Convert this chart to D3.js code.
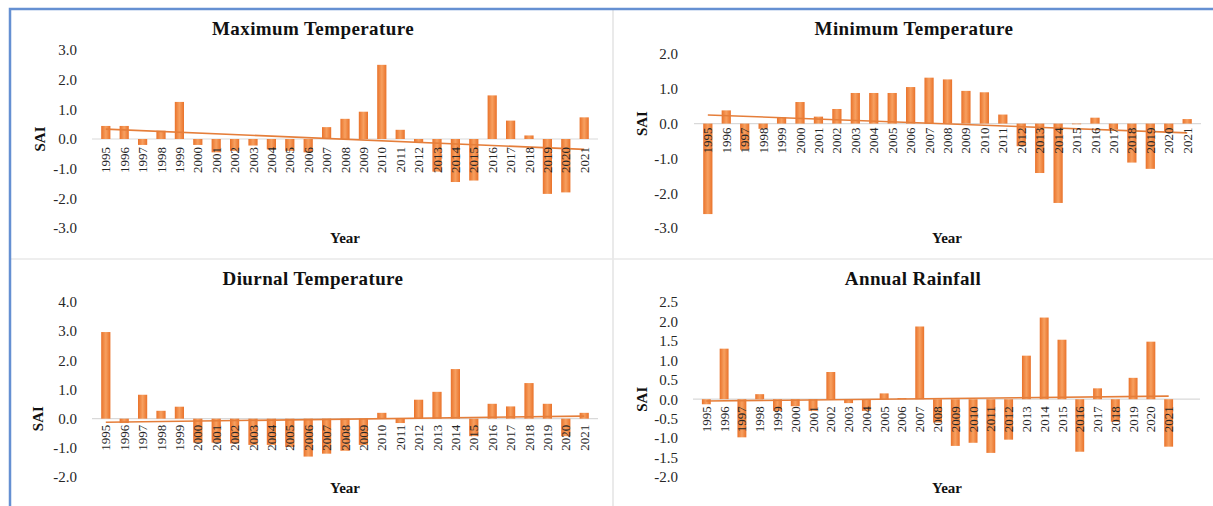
<!DOCTYPE html>
<html>
<head>
<meta charset="utf-8">
<script src="https://cdn.jsdelivr.net/npm/d3@7"></script>
<style>
  body { margin: 0; background: #fff; }
  svg { display: block; }
  text { font-family: "Liberation Serif", "Times New Roman", serif; }
</style>
</head>
<body>
<div id="chart"></div>
<script>
var width = 1213,
    height = 506;

// SAI values
var years = [1995, 1996, 1997, 1998, 1999, 2000, 2001, 2002, 2003, 2004, 2005, 2006, 2007, 2008,
             2009, 2010, 2011, 2012, 2013, 2014, 2015, 2016, 2017, 2018, 2019, 2020, 2021];

var maxTemp = [0.44, 0.44, -0.2, 0.28, 1.25, -0.2, -0.45, -0.4, -0.22, -0.35, -0.4, -0.45, 0.4, 0.68,
               0.92, 2.5, 0.31, -0.1, -1.1, -1.45, -1.4, 1.47, 0.62, 0.12, -1.85, -1.8, 0.73];

var minTemp = [-2.6, 0.38, -0.75, -0.15, 0.18, 0.62, 0.2, 0.42, 0.88, 0.88, 0.88, 1.05, 1.32, 1.27,
               0.94, 0.9, 0.26, -0.65, -1.42, -2.28, -0.02, 0.17, -0.17, -1.12, -1.3, -0.25, 0.13];

var diurnalTemp = [2.97, -0.15, 0.82, 0.27, 0.41, -0.82, -0.82, -0.85, -0.9, -0.9, -0.97, -1.3, -1.2, -1.1,
                   -0.9, 0.2, -0.15, 0.65, 0.92, 1.7, -0.6, 0.51, 0.42, 1.22, 0.51, -0.6, 0.2];

var rainfall = [-0.13, 1.3, -0.98, 0.13, -0.3, -0.18, -0.3, 0.7, -0.1, -0.3, 0.15, 0.03, 1.87, -0.6,
                -1.2, -1.12, -1.38, -1.04, 1.12, 2.1, 1.53, -1.35, 0.28, -0.58, 0.55, 1.48, -1.22];

var maxTicks = [3, 2, 1, 0, -1, -2, -3];
var minTicks = [2, 1, 0, -1, -2, -3];
var diurnalTicks = [4, 3, 2, 1, 0, -1, -2];
var rainTicks = [2.5, 2, 1.5, 1, 0.5, 0, -0.5, -1, -1.5, -2];

var panels = [
  { title: "Maximum Temperature", values: maxTemp, ticks: maxTicks,
    left: 92, right: 598, lineRight: 598, top: 50, bottom: 228,
    titleX: 313, titleY: 35, yearX: 345, yearY: 243, saiX: 40, tickX: 77, gap: 8 },
  { title: "Minimum Temperature", values: minTemp, ticks: minTicks,
    left: 694, right: 1201, lineRight: 1201, top: 54, bottom: 228,
    titleX: 914, titleY: 35, yearX: 947, yearY: 243, saiX: 642, tickX: 678, gap: 4 },
  { title: "Diurnal Temperature", values: diurnalTemp, ticks: diurnalTicks,
    left: 92, right: 598, lineRight: 598, top: 302, bottom: 477,
    titleX: 313, titleY: 285, yearX: 345, yearY: 493, saiX: 38, tickX: 77, gap: 6 },
  { title: "Annual Rainfall", values: rainfall, ticks: rainTicks,
    left: 693, right: 1182, lineRight: 1200, top: 302, bottom: 477,
    titleX: 913, titleY: 285, yearX: 947, yearY: 493, saiX: 642, tickX: 678, gap: 7 }
];

var fmt = function(d) { return d3.format(".1f")(d).replace("\u2212", "-"); };

var svg = d3.select("#chart").append("svg")
    .attr("width", width).attr("height", height);

var grad = svg.append("defs").append("linearGradient")
    .attr("id", "barGrad").attr("x1", "0%").attr("x2", "100%").attr("y1", "0%").attr("y2", "0%");
grad.append("stop").attr("offset", "0%").attr("stop-color", "#E9722A");
grad.append("stop").attr("offset", "50%").attr("stop-color", "#F7A060");
grad.append("stop").attr("offset", "100%").attr("stop-color", "#E9722A");

// panel separators and outer frame
svg.append("line").attr("x1", 613).attr("x2", 613).attr("y1", 10).attr("y2", height)
    .attr("stroke", "#E3E3E3").attr("stroke-width", 1.5);
svg.append("line").attr("x1", 10).attr("x2", width).attr("y1", 259).attr("y2", 259)
    .attr("stroke", "#E8E8E8").attr("stroke-width", 1.5);
svg.append("rect").attr("x", 10).attr("y", 9).attr("width", width + 20).attr("height", height + 20)
    .attr("fill", "none").attr("stroke", "#6590D2").attr("stroke-width", 2.5);

panels.forEach(function(p) {
  var g = svg.append("g");

  var x = d3.scaleBand().domain(years).range([p.left, p.right]).padding(0.5);
  var y = d3.scaleLinear()
      .domain([d3.max(p.ticks), d3.min(p.ticks)])
      .range([p.top, p.bottom]);

  // zero line
  g.append("line")
    .attr("x1", p.left).attr("x2", p.lineRight)
    .attr("y1", y(0)).attr("y2", y(0))
    .attr("stroke", "#D9D9D9").attr("stroke-width", 1.2);

  // bars
  g.append("g").selectAll("rect")
    .data(p.values)
    .enter().append("rect")
    .attr("x", function(d, i) { return x(years[i]); })
    .attr("width", x.bandwidth())
    .attr("y", function(d) { return y(Math.max(0, d)); })
    .attr("height", function(d) { return Math.abs(y(d) - y(0)); })
    .attr("fill", "url(#barGrad)");

  // linear trend (least squares)
  var n = p.values.length,
      mx = d3.mean(years),
      my = d3.mean(p.values),
      sxy = d3.sum(years, function(yr, i) { return (yr - mx) * (p.values[i] - my); }),
      sxx = d3.sum(years, function(yr) { return (yr - mx) * (yr - mx); }),
      slope = sxy / sxx,
      icpt = my - slope * mx;
  var ends = [years[0], years[n - 1]];
  g.append("line")
    .attr("x1", x(ends[0]) + x.bandwidth() / 2)
    .attr("x2", x(ends[1]) + x.bandwidth() / 2)
    .attr("y1", y(icpt + slope * ends[0]))
    .attr("y2", y(icpt + slope * ends[1]))
    .attr("stroke", "#E57E3A").attr("stroke-width", 1.6);

  // y axis
  var yAxis = g.append("g")
    .attr("transform", "translate(" + p.tickX + ",0)")
    .call(d3.axisLeft(y).tickValues(p.ticks).tickSize(0).tickPadding(0).tickFormat(fmt));
  yAxis.select(".domain").remove();
  yAxis.selectAll("text")
    .attr("font-family", "Liberation Serif, Times New Roman, serif")
    .attr("font-size", 15).attr("fill", "#262626");

  // x axis (year labels)
  var xAxis = g.append("g")
    .attr("transform", "translate(0," + y(0) + ")")
    .call(d3.axisBottom(x).tickSize(0).tickPadding(0));
  xAxis.select(".domain").remove();
  xAxis.selectAll("text")
    .attr("transform", "rotate(-90)")
    .attr("text-anchor", "end")
    .attr("x", -p.gap).attr("y", 0).attr("dy", "0.35em")
    .attr("font-family", "Liberation Serif, Times New Roman, serif")
    .attr("font-size", 13).attr("fill", "#262626");

  // titles
  g.append("text")
    .attr("x", p.titleX).attr("y", p.titleY)
    .attr("text-anchor", "middle")
    .attr("font-size", 19).attr("font-weight", "bold").attr("fill", "#111")
    .attr("letter-spacing", 0.4)
    .text(p.title);

  g.append("text")
    .attr("x", p.yearX).attr("y", p.yearY)
    .attr("text-anchor", "middle")
    .attr("font-size", 15).attr("font-weight", "bold").attr("fill", "#111")
    .text("Year");

  g.append("text")
    .attr("transform", "translate(" + (p.saiX + 5) + "," + y(0) + ") rotate(-90)")
    .attr("text-anchor", "middle")
    .attr("font-size", 15).attr("font-weight", "bold").attr("fill", "#111")
    .text("SAI");
});
</script>
</body>
</html>
